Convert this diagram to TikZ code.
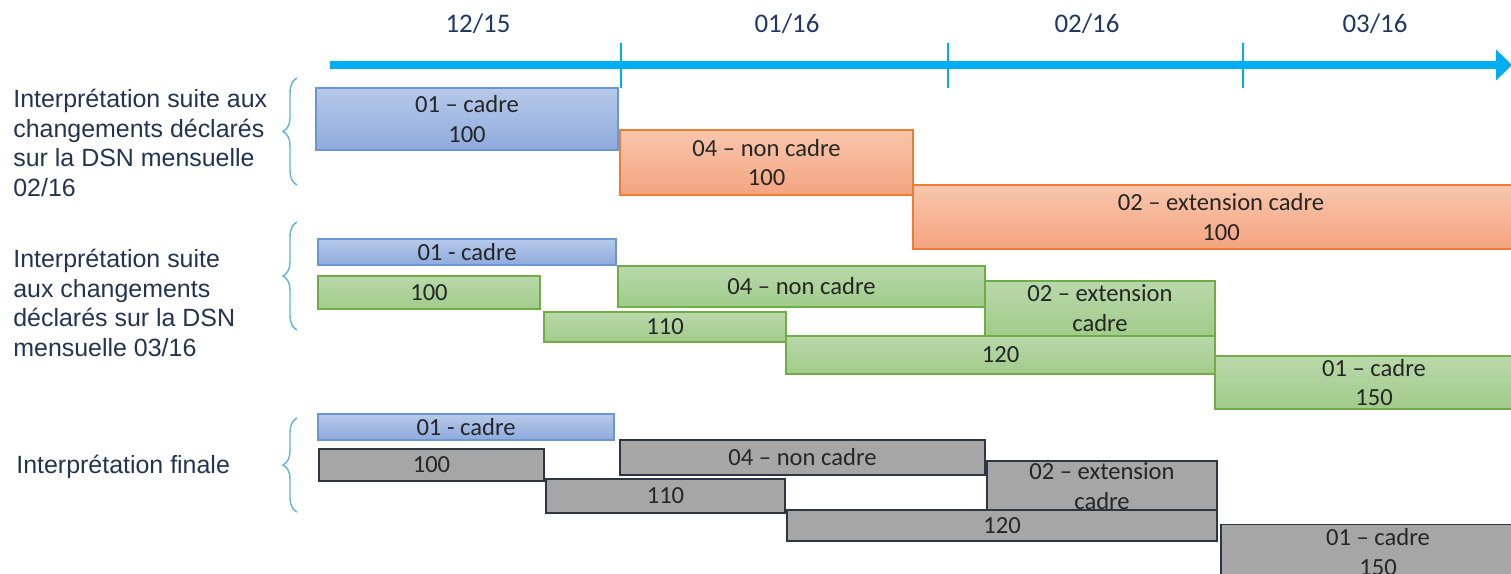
\documentclass[tikz,border=0pt]{standalone}
\usepackage{fontspec}
\setmainfont{Carlito}
\newfontfamily\labelfont{Liberation Sans}
\usepackage{tikz}
\usetikzlibrary{positioning,arrows.meta,decorations.pathreplacing}
\definecolor{axisblue}{RGB}{0,174,239}
\definecolor{bracecol}{RGB}{91,179,230}
\definecolor{monthcol}{RGB}{31,56,100}
\definecolor{labelcol}{RGB}{35,52,82}
\definecolor{boxtext}{RGB}{38,38,38}
\definecolor{bluetop}{RGB}{182,201,233}
\definecolor{bluebot}{RGB}{143,171,221}
\definecolor{blueline}{RGB}{108,150,210}
\definecolor{orangetop}{RGB}{248,198,172}
\definecolor{orangebot}{RGB}{244,164,128}
\definecolor{orangeline}{RGB}{237,125,49}
\definecolor{greentop}{RGB}{185,216,170}
\definecolor{greenbot}{RGB}{160,204,138}
\definecolor{greenline}{RGB}{112,173,71}
\definecolor{grayfill}{RGB}{166,166,166}
\definecolor{grayline}{RGB}{45,55,68}
\tikzstyle{bar} = [rectangle, inner sep=0pt, line width=0.8pt, align=center, text=boxtext, font=\fontsize{14}{17}\selectfont]
\tikzstyle{bluebar} = [bar, draw=blueline, top color=bluetop, bottom color=bluebot]
\tikzstyle{orangebar} = [bar, draw=orangeline, top color=orangetop, bottom color=orangebot]
\tikzstyle{greenbar} = [bar, draw=greenline, top color=greentop, bottom color=greenbot]
\tikzstyle{graybar} = [bar, draw=grayline, fill=grayfill]
\tikzstyle{month} = [text=monthcol, font=\fontsize{15.3}{18}\selectfont]
\tikzstyle{grouplabel} = [anchor=west, align=left, inner sep=0pt, text=labelcol, font=\labelfont\fontsize{14.2}{16.9}\selectfont]
\tikzstyle{groupbrace} = [draw=bracecol, line width=0.8pt, decorate, decoration={brace, amplitude=0.28cm}]
\tikzstyle{axis} = [draw=axisblue, line width=5pt, -{Triangle[length=9pt, width=17pt]}]
\tikzstyle{tick} = [draw=axisblue, line width=0.8pt]

\begin{document}
\begin{tikzpicture}[x=0.02cm, y=-0.02cm]

            \useasboundingbox (0,0) rectangle (1511,574);
            \clip (0,0) rectangle (1511,574);

            % Time axis
            \coordinate (axisstart) at (330,65);
            \coordinate (axisend) at (1512,65);
            \draw [axis] (axisstart) -- (axisend);
            \foreach \x in {621,948,1243}
                \draw [tick] (\x,43) -- (\x,88);

            \node (m1215) [month] at (478,24) {12/15};
            \node (m0116) [month] at (787,24) {01/16};
            \node (m0216) [month] at (1087,24) {02/16};
            \node (m0316) [month] at (1375,24) {03/16};

            % Group labels
            \node (febtext) [grouplabel] at (13,143) {Interprétation suite aux\\changements déclarés\\sur la DSN mensuelle\\02/16};
            \node (martext) [grouplabel] at (13,303) {Interprétation suite\\aux changements\\déclarés sur la DSN\\mensuelle 03/16};
            \node (fintext) [grouplabel] at (16,467) {Interprétation finale};

            \draw [groupbrace] (297,185) -- (297,78);
            \draw [groupbrace] (297,330) -- (297,222);
            \draw [groupbrace] (297,512) -- (297,418);

            % DSN 02/16
            \node (febcadre) [bluebar, minimum width=6.04cm, minimum height=1.24cm] at (467,119) {01 – cadre\\100};
            \node (febnoncadre) [orangebar, minimum width=5.86cm, minimum height=1.3cm] at (766.5,162.5) {04 – non cadre\\100};
            \node (febext) [orangebar, minimum width=12.32cm, minimum height=1.28cm] at (1221,217) {02 – extension cadre\\100};

            % DSN 03/16
            \node (marcadre) [bluebar, minimum width=5.96cm, minimum height=0.52cm] at (467,252) {01 - cadre};
            \node (marsala) [greenbar, minimum width=4.44cm, minimum height=0.66cm] at (429,292.5) {100};
            \node (marnoncadre) [greenbar, minimum width=7.34cm, minimum height=0.82cm] at (801.5,286.5) {04 – non cadre};
            \node (marext) [greenbar, minimum width=4.6cm, minimum height=1.1cm] at (1100,308.5) {02 – extension\\cadre};
            \node (marsalb) [greenbar, minimum width=4.84cm, minimum height=0.6cm] at (665,327) {110};
            \node (marsalc) [greenbar, minimum width=8.58cm, minimum height=0.76cm] at (1000.5,355) {120};
            \node (marcadreb) [greenbar, minimum width=6.36cm, minimum height=1.06cm] at (1374,382.5) {01 – cadre\\150};

            % Final
            \node (fincadre) [bluebar, minimum width=5.92cm, minimum height=0.52cm] at (466,427) {01 - cadre};
            \node (finsala) [graybar, minimum width=4.5cm, minimum height=0.64cm] at (431.5,465) {100};
            \node (finnoncadre) [graybar, minimum width=7.3cm, minimum height=0.7cm] at (802.5,457.5) {04 – non cadre};
            \node (finext) [graybar, minimum width=4.6cm, minimum height=1.0cm] at (1102,486) {02 – extension\\cadre};
            \node (finsalb) [graybar, minimum width=4.78cm, minimum height=0.68cm] at (665.5,496) {110};
            \node (finsalc) [graybar, minimum width=8.6cm, minimum height=0.62cm] at (1002,525.5) {120};
            \node (fincadreb) [graybar, minimum width=6.28cm, minimum height=1.1cm] at (1378,552) {01 – cadre\\150};
        \end{tikzpicture}
\end{document}
